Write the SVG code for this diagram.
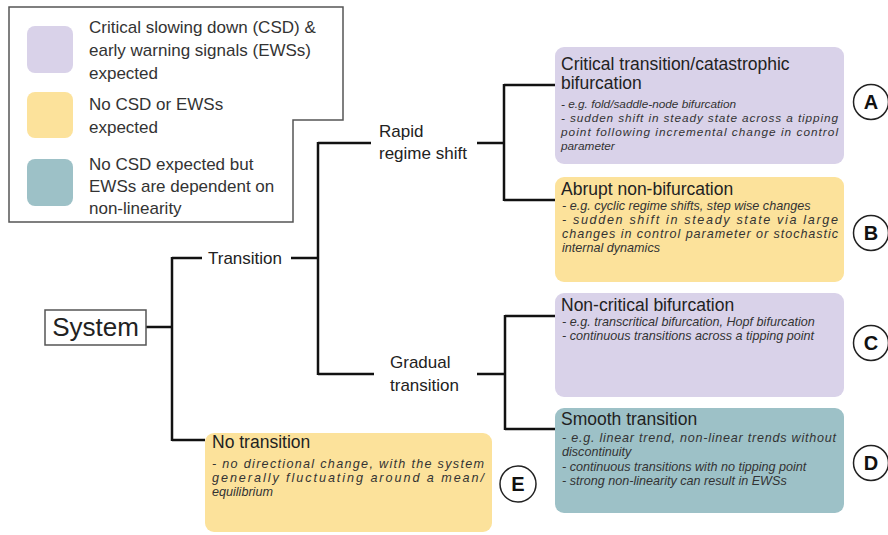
<svg xmlns="http://www.w3.org/2000/svg" width="888" height="535" viewBox="0 0 888 535">
<style>
.lg{font-family:"Liberation Sans",Arial,sans-serif;font-size:17px;fill:#333}
.lbl{font-family:"Liberation Sans",Arial,sans-serif;font-size:17px;fill:#222}
.ttl{font-family:"Liberation Sans",Arial,sans-serif;font-size:17.5px;fill:#222}
.bl{font-family:"Liberation Sans",Arial,sans-serif;font-size:12.6px;font-style:italic;fill:#333}
.bs{font-family:"Liberation Sans",Arial,sans-serif;font-size:11.8px;font-style:italic;fill:#333}
.pur{fill:#d9d2e9}
.yel{fill:#fce29b}
.tea{fill:#9dc1c7}
.con{fill:none;stroke:#111;stroke-width:2.5;stroke-linecap:butt}
.circ{fill:#fff;stroke:#222;stroke-width:1.5}
.let{font-family:"Liberation Sans",Arial,sans-serif;font-size:20px;font-weight:bold;fill:#111;text-anchor:middle}
</style>
<rect width="888" height="535" fill="#fff"/>

<g id="legend">
<polygon points="9,7 343,7 343,120 293,120 293,222 9,222" fill="#fff" stroke="#555" stroke-width="1.5"/>
<rect class="pur" x="27" y="26" width="46" height="47" rx="8"/>
<rect class="yel" x="27" y="92" width="46" height="46" rx="8"/>
<rect class="tea" x="27" y="159" width="46" height="47" rx="8"/>
<text class="lg" x="89" y="33">Critical slowing down (CSD) &amp;</text>
<text class="lg" x="89" y="56">early warning signals (EWSs)</text>
<text class="lg" x="89" y="79">expected</text>
<text class="lg" x="89" y="110">No CSD or EWSs</text>
<text class="lg" x="89" y="133">expected</text>
<text class="lg" x="89" y="170">No CSD expected but</text>
<text class="lg" x="89" y="192">EWSs are dependent on</text>
<text class="lg" x="89" y="214">non-linearity</text>
</g>

<g id="connectors">
<path class="con" d="M146,327 H172 M172,257 V441 M172,258 H202 M291,258 H318 M318,142 V375 M318,143 H371 M477,143 H504 M504,84 V201 M504,85 H557 M504,200 H557 M318,374 H374 M477,374 H505 M505,315 V430 M505,316 H557 M505,429 H557 M172,440 H205"/>
</g>

<g id="system">
<rect x="45" y="310" width="101" height="35" fill="#fff" stroke="#555" stroke-width="1.5"/>
<text x="95.5" y="336" font-family="Liberation Sans, Arial, sans-serif" font-size="26" fill="#222" text-anchor="middle">System</text>
</g>

<g id="transition">
<text class="lbl" x="208" y="264">Transition</text>
</g>

<g id="rapid">
<text class="lbl" x="379" y="137">Rapid</text>
<text class="lbl" x="379" y="159">regime shift</text>
</g>

<g id="gradual">
<text class="lbl" x="390" y="368">Gradual</text>
<text class="lbl" x="390" y="391">transition</text>
</g>

<g id="boxA">
<rect class="pur" x="555" y="47" width="289" height="117" rx="9"/>
<text class="ttl" x="561" y="70">Critical transition/catastrophic</text>
<text class="ttl" x="561" y="89">bifurcation</text>
<text class="bs" x="561" y="108">- e.g. fold/saddle-node bifurcation</text>
<text class="bs" x="561" y="122" textLength="277" lengthAdjust="spacing">- sudden shift in steady state across a tipping</text>
<text class="bs" x="561" y="136" textLength="277" lengthAdjust="spacing">point following incremental change in control</text>
<text class="bs" x="561" y="150">parameter</text>
</g>

<g id="boxB">
<rect class="yel" x="555" y="177" width="289" height="105" rx="9"/>
<text class="ttl" x="561" y="195">Abrupt non-bifurcation</text>
<text class="bl" x="562" y="210">- e.g. cyclic regime shifts, step wise changes</text>
<text class="bl" x="562" y="224" textLength="276" lengthAdjust="spacing">- sudden shift in steady state via large</text>
<text class="bl" x="562" y="238" textLength="276" lengthAdjust="spacing">changes in control parameter or stochastic</text>
<text class="bl" x="562" y="252">internal dynamics</text>
</g>

<g id="boxC">
<rect class="pur" x="555" y="293" width="289" height="104" rx="9"/>
<text class="ttl" x="561" y="311">Non-critical bifurcation</text>
<text class="bl" x="562" y="326">- e.g. transcritical bifurcation, Hopf bifurcation</text>
<text class="bl" x="562" y="340">- continuous transitions across a tipping point</text>
</g>

<g id="boxD">
<rect class="tea" x="555" y="408" width="289" height="105" rx="9"/>
<text class="ttl" x="561" y="425">Smooth transition</text>
<text class="bl" x="562" y="442" textLength="274" lengthAdjust="spacing">- e.g. linear trend, non-linear trends without</text>
<text class="bl" x="562" y="456">discontinuity</text>
<text class="bl" x="562" y="470.5">- continuous transitions with no tipping point</text>
<text class="bl" x="562" y="484.5">- strong non-linearity can result in EWSs</text>
</g>

<g id="boxE">
<rect class="yel" x="205" y="433" width="287" height="99" rx="9"/>
<text class="ttl" x="212" y="448">No transition</text>
<text class="bl" x="212" y="468" textLength="272" lengthAdjust="spacing">- no directional change, with the system</text>
<text class="bl" x="212" y="482" textLength="272" lengthAdjust="spacing">generally fluctuating around a mean/</text>
<text class="bl" x="212" y="496">equilibrium</text>
</g>

<g id="labelA"><circle class="circ" cx="871" cy="102" r="17.5"/><text class="let" x="871" y="109">A</text></g>
<g id="labelB"><circle class="circ" cx="871" cy="233" r="17.5"/><text class="let" x="871" y="240">B</text></g>
<g id="labelC"><circle class="circ" cx="871" cy="343" r="17.5"/><text class="let" x="871" y="350">C</text></g>
<g id="labelD"><circle class="circ" cx="871" cy="463" r="17.5"/><text class="let" x="871" y="470">D</text></g>
<g id="labelE"><circle class="circ" cx="518" cy="484" r="18"/><text class="let" x="518" y="491">E</text></g>
</svg>
